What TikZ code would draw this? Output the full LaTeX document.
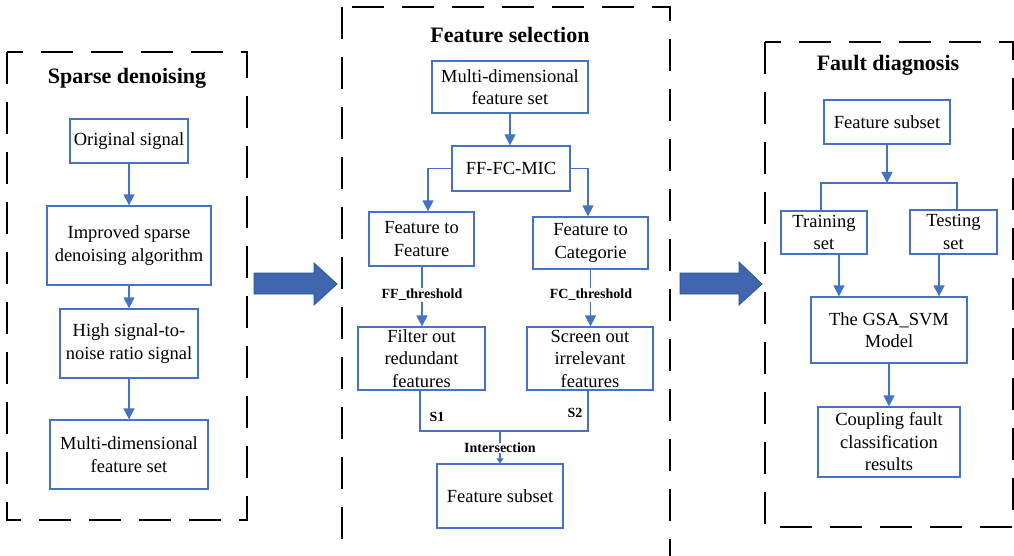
\documentclass[tikz,border=0pt]{standalone}
\usepackage{fontspec}
\setmainfont{Liberation Serif}
\usetikzlibrary{arrows.meta}
\definecolor{boxblue}{HTML}{4472C4}
\definecolor{bigfill}{HTML}{4066B0}
\definecolor{bigdraw}{HTML}{2F528F}
\tikzset{
  bx/.style={draw=boxblue, line width=1.3, align=center, inner sep=0pt, fill=white,
    font=\fontsize{18.5}{22.5}\selectfont},
  ttl/.style={inner sep=0pt, font=\fontsize{22}{26}\selectfont\bfseries},
  lbl/.style={inner sep=1pt, font=\fontsize{14}{16}\selectfont\bfseries},
  conn/.style={draw=boxblue, line width=1.5},
  arr/.style={conn, -{Triangle[width=11,length=11]}},
  sarr/.style={conn, -{Triangle[width=7,length=5]}},
  dbox/.style={draw=black, line width=2.2, dash pattern=on 32 off 18},
  bigarrow/.style={fill=bigfill, draw=bigdraw, line width=0.8}
}
\begin{document}
\begin{tikzpicture}[x=1pt,y=-1pt]
\useasboundingbox (0,0) rectangle (1014,556);
\begin{scope}
\clip (0,0) rectangle (1014,556);
\draw[dbox] (7,52) rectangle (247,520);
\draw[dbox] (342,7) rectangle (670,600);
\draw[dbox] (765,42) rectangle (1013,527);
\end{scope}

% big arrows
\fill[bigarrow] (254,273) -- (314,273) -- (314,263) -- (337,284) -- (314,305) -- (314,294) -- (254,294) -- cycle;
\fill[bigarrow] (680,273) -- (739,273) -- (739,262) -- (762,284) -- (739,305) -- (739,294) -- (680,294) -- cycle;

% left panel
\node[ttl] (t1) at (127,78) {Sparse denoising};
\node[bx, minimum width=118, minimum height=44] (os) at (129,141) {Original signal};
\node[bx, minimum width=164, minimum height=79] (isd) at (129,245.5) {Improved sparse\\denoising algorithm};
\node[bx, minimum width=138, minimum height=69] (hs) at (129,343.5) {High signal-to-\\noise ratio signal};
\node[bx, minimum width=158, minimum height=69] (mdf) at (129,454.5) {Multi-dimensional\\feature set};
\draw[arr] (os.south) -- (isd.north);
\draw[arr] (isd.south) -- (hs.north);
\draw[arr] (hs.south) -- (mdf.north);

% middle panel
\node[ttl] (t2) at (510,35) {Feature selection};
\node[bx, minimum width=156, minimum height=52] (mdf2) at (510,87) {Multi-dimensional\\feature set};
\node[bx, minimum width=118, minimum height=45] (mic) at (511,168.5) {FF-FC-MIC};
\node[bx, minimum width=105, minimum height=54] (ftf) at (421.5,239) {Feature to\\Feature};
\node[bx, minimum width=115, minimum height=52] (ftc) at (590.5,243) {Feature to\\Categorie};
\node[bx, minimum width=127, minimum height=63] (filt) at (421.5,358.5) {Filter out\\redundant\\features};
\node[bx, minimum width=126, minimum height=63] (scr) at (590,358.5) {Screen out\\irrelevant\\features};
\node[bx, minimum width=126, minimum height=64] (fs) at (500,496) {Feature subset};
\node[lbl] (ffl) at (422,295) {FF\_threshold};
\node[lbl] (fcl) at (591,295) {FC\_threshold};
\node[lbl] (s1) at (437,417) {S1};
\node[lbl] (s2) at (575,413) {S2};
\node[lbl, inner sep=0pt] (isl) at (500,448) {Intersection};
\coordinate (j) at (500,431);

\draw[arr] (mdf2.south) -- (mdf2.south |- mic.north);
\draw[arr] (mic.west) -| ([xshift=6.5]ftf.north);
\draw[arr] (mic.east) -| ([xshift=-2.5]ftc.north);
\draw[conn] (ffl.north |- ftf.south) -- (ffl.north);
\draw[arr] (ffl.south) -- (ffl.south |- filt.north);
\draw[conn] ([xshift=-0.5]fcl.north |- ftc.south) -- ([xshift=-0.5]fcl.north);
\draw[arr] ([xshift=-0.5]fcl.south) -- ([xshift=-0.5]fcl.south |- scr.north);
\draw[conn] ([xshift=-1.5]filt.south) |- (j) -| ([xshift=-2]scr.south);
\draw[conn] (j) -- (isl.north);
\draw[sarr] (isl.south) -- (fs.north);

% right panel
\node[ttl] (t3) at (888,65) {Fault diagnosis};
\node[bx, minimum width=126, minimum height=44] (fs3) at (887,122) {Feature subset};
\node[bx, minimum width=86, minimum height=43] (trn) at (824,232.5) {Training\\set};
\node[bx, minimum width=87, minimum height=44] (tst) at (953.5,232) {Testing\\set};
\node[bx, minimum width=156, minimum height=66] (gsa) at (889,330) {The GSA\_SVM\\Model};
\node[bx, minimum width=142, minimum height=70] (cpl) at (889,442) {Coupling fault\\classification\\results};
\coordinate (sp) at (887,183);
\draw[arr] (fs3.south) -- (sp);
\draw[conn] ([xshift=-3]trn.north) |- (sp) -| ([xshift=3.5]tst.north);
\draw[arr] ([xshift=15]trn.south) -- ([xshift=15]trn.south |- gsa.north);
\draw[arr] ([xshift=-14.5]tst.south) -- ([xshift=-14.5]tst.south |- gsa.north);
\draw[arr] (gsa.south) -- (cpl.north);
\end{tikzpicture}
\end{document}
